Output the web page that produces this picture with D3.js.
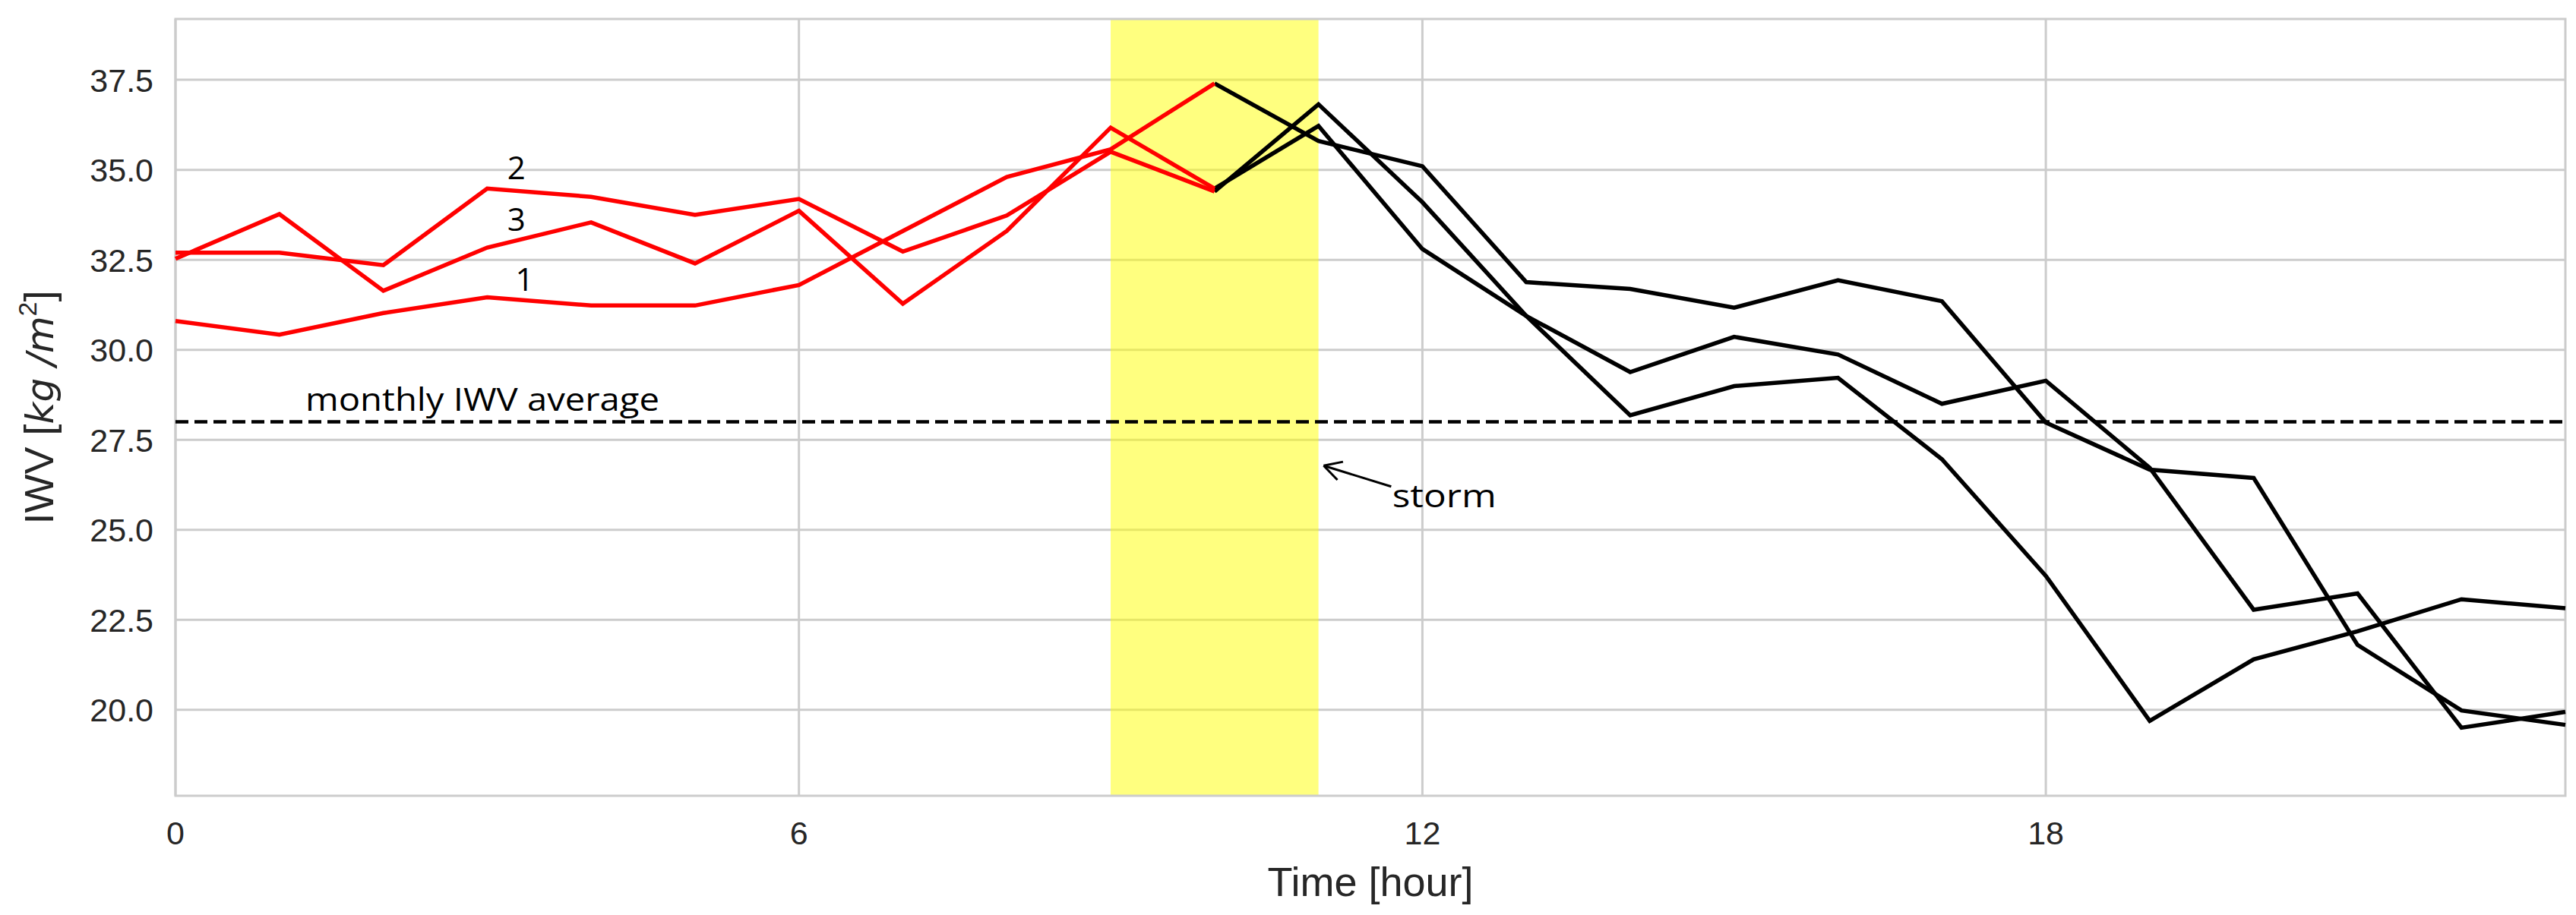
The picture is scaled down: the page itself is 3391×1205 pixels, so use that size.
<!DOCTYPE html>
<html><head><meta charset="utf-8">
<script src="https://cdn.jsdelivr.net/npm/d3@7"></script>
<style>body{margin:0;background:#fff}</style>
</head><body>
<div id="chart"></div>
<script>
// hours and values
var redHours = [0,1,2,3,4,5,6,7,8,9,10];
var red1 = [30.80,30.42,31.02,31.46,31.23,31.23,31.80,33.30,34.80,35.57,37.40];
var red2 = [32.70,32.70,32.35,34.48,34.25,33.75,34.19,32.73,33.73,35.50,34.40];
var red3 = [32.53,33.77,31.64,32.84,33.54,32.40,33.86,31.28,33.30,36.17,34.48];
var blackHours = [10,11,12,13,14,15,16,17,18,19,20,21,22,23];
var blackA = [37.40,35.80,35.10,31.88,31.69,31.17,31.93,31.35,27.98,26.67,26.44,21.80,19.98,19.58];
var blackB = [34.40,36.82,34.10,30.94,28.18,28.99,29.22,26.96,23.72,19.69,21.40,22.18,23.07,22.82];
var blackC = [34.48,36.22,32.80,30.94,29.38,30.36,29.87,28.50,29.14,26.72,22.78,23.23,19.50,19.94];
var xTicks = [0,6,12,18];
var yTicks = [20.0,22.5,25.0,27.5,30.0,32.5,35.0,37.5];
var monthlyAvg = 28.0;
var stormSpan = [9,11];

var W = 3391, H = 1205;
var m = {left:231, right:3391-3377, top:25, bottom:1205-1048};
var svg = d3.select("#chart").append("svg").attr("width",W).attr("height",H);
var x = d3.scaleLinear().domain([0,23]).range([m.left, W-m.right]);
var y = d3.scaleLinear().domain([17.61,39.19]).range([H-m.bottom, m.top]);
var fontTick = "'Liberation Sans', Arial, sans-serif";
var fontNote = "'Open Sans', 'Noto Sans', sans-serif";

// grid
svg.append("g").selectAll("line").data(yTicks).join("line")
  .attr("x1",x(0)).attr("x2",x(23)).attr("y1",d=>y(d)).attr("y2",d=>y(d))
  .attr("stroke","#cccccc").attr("stroke-width",3);
svg.append("g").selectAll("line").data(xTicks).join("line")
  .attr("y1",y.range()[0]).attr("y2",y.range()[1]).attr("x1",d=>x(d)).attr("x2",d=>x(d))
  .attr("stroke","#cccccc").attr("stroke-width",3);

// storm span
svg.append("rect").attr("x",x(stormSpan[0])).attr("width",x(stormSpan[1])-x(stormSpan[0]))
  .attr("y",y.range()[1]).attr("height",y.range()[0]-y.range()[1])
  .attr("fill","#ffff00").attr("fill-opacity",0.5);

// frame
svg.append("rect").attr("x",x(0)).attr("y",y.range()[1]).attr("width",x(23)-x(0))
  .attr("height",y.range()[0]-y.range()[1]).attr("fill","none").attr("stroke","#cccccc").attr("stroke-width",3);

// monthly average
svg.append("line").attr("x1",x(0)).attr("x2",x(23)).attr("y1",y(monthlyAvg)).attr("y2",y(monthlyAvg))
  .attr("stroke","#000").attr("stroke-width",4.5).attr("stroke-dasharray","17,8");

var line = d3.line();
function draw(hours, vals, color){
  svg.append("path").datum(hours.map((h,i)=>[x(h),y(vals[i])]))
    .attr("d",line).attr("fill","none").attr("stroke",color).attr("stroke-width",5.5)
    .attr("stroke-linejoin","miter");
}
draw(blackHours, blackA, "#000");
draw(blackHours, blackB, "#000");
draw(blackHours, blackC, "#000");
draw(redHours, red1, "#ff0000");
draw(redHours, red2, "#ff0000");
draw(redHours, red3, "#ff0000");

// tick labels
svg.append("g").selectAll("text").data(yTicks).join("text")
  .attr("x",202).attr("y",d=>y(d)).attr("dy","0.36em").attr("text-anchor","end")
  .attr("font-family",fontTick).attr("font-size",43).attr("fill","#262626")
  .text(d=>d.toFixed(1));
svg.append("g").selectAll("text").data(xTicks).join("text")
  .attr("x",d=>x(d)).attr("y",1112).attr("text-anchor","middle")
  .attr("font-family",fontTick).attr("font-size",43).attr("fill","#262626")
  .text(d=>d);

// axis titles
svg.append("text").attr("x",(x(0)+x(23))/2).attr("y",1180).attr("text-anchor","middle")
  .attr("font-family",fontTick).attr("font-size",54).attr("fill","#262626").text("Time [hour]");
var yt = svg.append("text").attr("transform","translate(70,"+((y.range()[0]+y.range()[1])/2)+") rotate(-90)")
  .attr("text-anchor","middle").attr("font-family",fontTick).attr("font-size",54).attr("fill","#262626");
yt.append("tspan").text("IWV [");
yt.append("tspan").attr("font-style","italic").attr("font-family","'DejaVu Sans', sans-serif").attr("font-size",50).text("kg /m");
yt.append("tspan").attr("font-size",34).attr("dy",-22).text("2");
yt.append("tspan").attr("dy",22).text("]");

// annotations
var notes = [
  {t:"2", h:3.28, v:35.05},
  {t:"3", h:3.28, v:33.62},
  {t:"1", h:3.36, v:31.95}
];
svg.append("g").selectAll("text").data(notes).join("text")
  .attr("x",d=>x(d.h)).attr("y",d=>y(d.v)).attr("text-anchor","middle").attr("dy","0.35em")
  .attr("font-family",fontNote).attr("font-size",42).attr("fill","#000").text(d=>d.t);
svg.append("text").attr("x",x(1.25)).attr("y",y(28.3)).attr("font-family",fontNote)
  .attr("font-size",42).attr("textLength",466).attr("lengthAdjust","spacingAndGlyphs").text("monthly IWV average");
svg.append("text").attr("x",x(11.71)).attr("y",y(25.94)).attr("dy","0.35em").attr("font-family",fontNote)
  .attr("font-size",42).attr("textLength",137).attr("lengthAdjust","spacingAndGlyphs").text("storm");

// arrow
var ax0 = x(11.70), ay0 = y(26.2), ax1 = x(11.05), ay1 = y(26.78);
svg.append("line").attr("x1",ax0).attr("y1",ay0).attr("x2",ax1).attr("y2",ay1).attr("stroke","#000").attr("stroke-width",3);
var ang = Math.atan2(ay0-ay1, ax0-ax1);
[0.5,-0.5].forEach(function(o){
  svg.append("line").attr("x1",ax1).attr("y1",ay1)
    .attr("x2",ax1+26*Math.cos(ang+o)).attr("y2",ay1+26*Math.sin(ang+o))
    .attr("stroke","#000").attr("stroke-width",3);
});
</script>
</body></html>
